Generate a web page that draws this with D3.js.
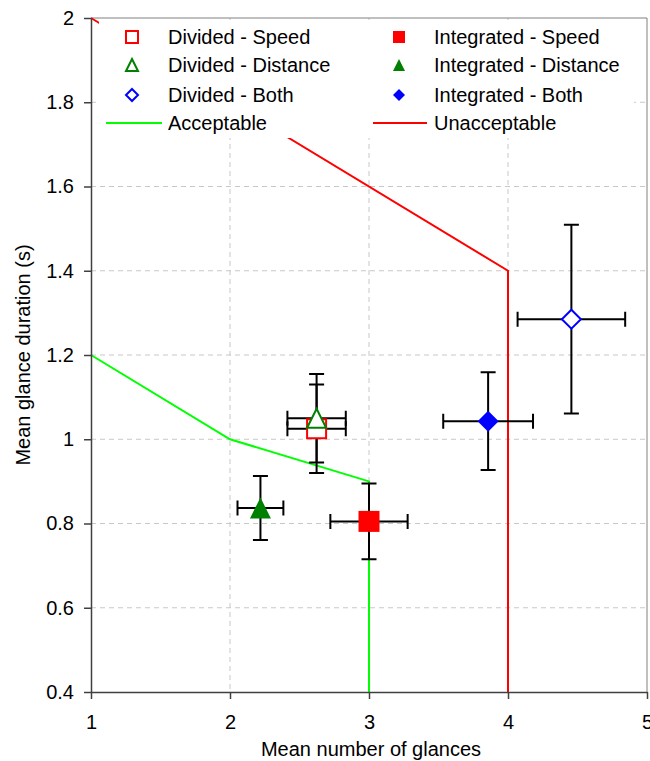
<!DOCTYPE html>
<html>
<head>
<meta charset="utf-8">
<script src="https://cdn.jsdelivr.net/npm/d3@7"></script>
<style>
  body { margin: 0; background: #fff; }
  text { font-family: Arial, "Liberation Sans", sans-serif; fill: #000; }
</style>
</head>
<body>
<svg></svg>
<script>
const seriesNames = ['Divided - Speed', 'Divided - Distance', 'Divided - Both',
  'Integrated - Speed', 'Integrated - Distance', 'Integrated - Both']
const seriesShapes = ['square', 'triangle', 'diamond', 'square', 'triangle', 'diamond']
const seriesFilled = [false, false, false, true, true, true]
const seriesColors = ['#ff0000', '#008000', '#0000ff', '#ff0000', '#008000', '#0000ff']
const meanGlances = [2.623, 2.623, 4.456, 3.0, 2.219, 3.857]
const meanDuration = [1.025, 1.05, 1.285, 0.805, 0.837, 1.043]
const glancesErr = [0.21, 0.21, 0.387, 0.278, 0.165, 0.323]
const durationErr = [0.105, 0.105, 0.224, 0.09, 0.076, 0.116]

const acceptX = [1, 2, 3, 3]
const acceptY = [1.2, 1.0, 0.9, 0.4]
const unaccX = [1, 4, 4]
const unaccY = [2, 1.4, 0.4]

const xTicks = [1, 2, 3, 4, 5]
const yTicks = [0.4, 0.6, 0.8, 1, 1.2, 1.4, 1.6, 1.8, 2]

const width = 650
const height = 761
const margin = { top: 18, right: 3, bottom: 69, left: 91 }
const chartWidth = width - margin.left - margin.right
const chartHeight = height - margin.top - margin.bottom
const fontSize = 20

const svg = d3.select('svg')
  .attr('width', width)
  .attr('height', height)

const x = d3.scaleLinear().domain([1, 5]).range([0, chartWidth])
const y = d3.scaleLinear().domain([0.4, 2]).range([chartHeight, 0])

const g = svg.append('g')
  .attr('transform', `translate(${margin.left}, ${margin.top})`)

// Gridlines
g.append('g')
  .selectAll('line')
  .data(yTicks.slice(1, -1))
  .enter().append('line')
  .attr('x1', 0).attr('x2', chartWidth)
  .attr('y1', d => y(d)).attr('y2', d => y(d))
  .attr('stroke', '#c8c8c8')
  .attr('stroke-dasharray', '5,4')
g.append('g')
  .selectAll('line')
  .data(xTicks.slice(1, -1))
  .enter().append('line')
  .attr('x1', d => x(d)).attr('x2', d => x(d))
  .attr('y1', 0).attr('y2', chartHeight)
  .attr('stroke', '#c8c8c8')
  .attr('stroke-dasharray', '5,4')

// Top and right border
g.append('path')
  .attr('d', `M0,0H${chartWidth}V${chartHeight}`)
  .attr('fill', 'none')
  .attr('stroke', '#808080')

// Threshold lines
const line = d3.line().x(d => x(d[0])).y(d => y(d[1]))
g.append('path')
  .datum(acceptX.map((d, i) => [d, acceptY[i]]))
  .attr('d', line)
  .attr('fill', 'none')
  .attr('stroke', '#00ff00')
  .attr('stroke-width', 2)
g.append('path')
  .datum(unaccX.map((d, i) => [d, unaccY[i]]))
  .attr('d', line)
  .attr('fill', 'none')
  .attr('stroke', '#ff0000')
  .attr('stroke-width', 2)

// Marker shapes, centred on the bounding box
function shapePath (shape, s) {
  const h = s / 2
  if (shape === 'square') return `M${-h},${-h}H${h}V${h}H${-h}Z`
  if (shape === 'diamond') return `M0,${-h}L${h},0L0,${h}L${-h},0Z`
  return `M0,${-h}L${h},${h}H${-h}Z`
}

// Error bars first, then markers on top
const cap = 7.5
seriesNames.forEach((name, i) => {
  const cx = x(meanGlances[i])
  const cy = y(meanDuration[i])
  const x0 = x(meanGlances[i] - glancesErr[i])
  const x1 = x(meanGlances[i] + glancesErr[i])
  const y0 = y(meanDuration[i] - durationErr[i])
  const y1 = y(meanDuration[i] + durationErr[i])
  g.append('path')
    .attr('d', `M${x0},${cy}H${x1}M${x0},${cy - cap}V${cy + cap}M${x1},${cy - cap}V${cy + cap}` +
      `M${cx},${y0}V${y1}M${cx - cap},${y0}H${cx + cap}M${cx - cap},${y1}H${cx + cap}`)
    .attr('fill', 'none')
    .attr('stroke', '#000')
    .attr('stroke-width', 2)
})
seriesNames.forEach((name, i) => {
  const s = seriesFilled[i] ? 21 : 19
  g.append('path')
    .attr('transform', `translate(${x(meanGlances[i])}, ${y(meanDuration[i])})`)
    .attr('d', shapePath(seriesShapes[i], s))
    .attr('fill', seriesFilled[i] ? seriesColors[i] : '#fff')
    .attr('stroke', seriesColors[i])
    .attr('stroke-width', seriesFilled[i] ? 0 : 2)
})

// Axes
const fmt = d3.format('~g')
g.append('g')
  .attr('transform', `translate(0, ${chartHeight})`)
  .call(d3.axisBottom(x).tickValues(xTicks).tickFormat(fmt).tickSize(7).tickPadding(16).tickSizeOuter(0))
  .call(a => a.selectAll('path, line').attr('stroke', '#404040').attr('stroke-width', 1.5))
  .call(a => a.selectAll('text').attr('font-size', fontSize).attr('font-family', 'Arial, "Liberation Sans", sans-serif'))
g.append('g')
  .call(d3.axisLeft(y).tickValues(yTicks).tickFormat(fmt).tickSize(7).tickPadding(10).tickSizeOuter(0))
  .call(a => a.selectAll('path, line').attr('stroke', '#404040').attr('stroke-width', 1.5))
  .call(a => a.selectAll('text').attr('font-size', fontSize).attr('font-family', 'Arial, "Liberation Sans", sans-serif'))

// Axis titles
svg.append('text')
  .attr('x', 371).attr('y', 756)
  .attr('text-anchor', 'middle')
  .attr('font-size', fontSize)
  .text('Mean number of glances')
svg.append('text')
  .attr('transform', 'translate(30, 355) rotate(-90)')
  .attr('text-anchor', 'middle')
  .attr('font-size', fontSize)
  .text('Mean glance duration (s)')

// Legend
const legend = svg.append('g')
legend.append('rect')
  .attr('x', 99).attr('y', 20)
  .attr('width', 535).attr('height', 118)
  .attr('fill', '#fff')
const colX = [132, 399]
const textX = [168, 434]
const rowY = [37, 65, 95]
seriesNames.forEach((name, i) => {
  const c = Math.floor(i / 3)
  const r = i % 3
  legend.append('path')
    .attr('transform', `translate(${colX[c]}, ${rowY[r]})`)
    .attr('d', shapePath(seriesShapes[i], 12))
    .attr('fill', seriesFilled[i] ? seriesColors[i] : '#fff')
    .attr('stroke', seriesColors[i])
    .attr('stroke-width', seriesFilled[i] ? 0 : 2)
  legend.append('text')
    .attr('x', textX[c]).attr('y', rowY[r])
    .attr('dy', '0.35em')
    .attr('font-size', fontSize)
    .text(name)
})
const lineNames = ['Acceptable', 'Unacceptable']
const lineColors = ['#00ff00', '#ff0000']
const lineX = [[106, 162], [373, 427]]
lineNames.forEach((name, i) => {
  legend.append('line')
    .attr('x1', lineX[i][0]).attr('x2', lineX[i][1])
    .attr('y1', 123).attr('y2', 123)
    .attr('stroke', lineColors[i])
    .attr('stroke-width', 2)
  legend.append('text')
    .attr('x', textX[i]).attr('y', 123)
    .attr('dy', '0.35em')
    .attr('font-size', fontSize)
    .text(name)
})
</script>
</body>
</html>
